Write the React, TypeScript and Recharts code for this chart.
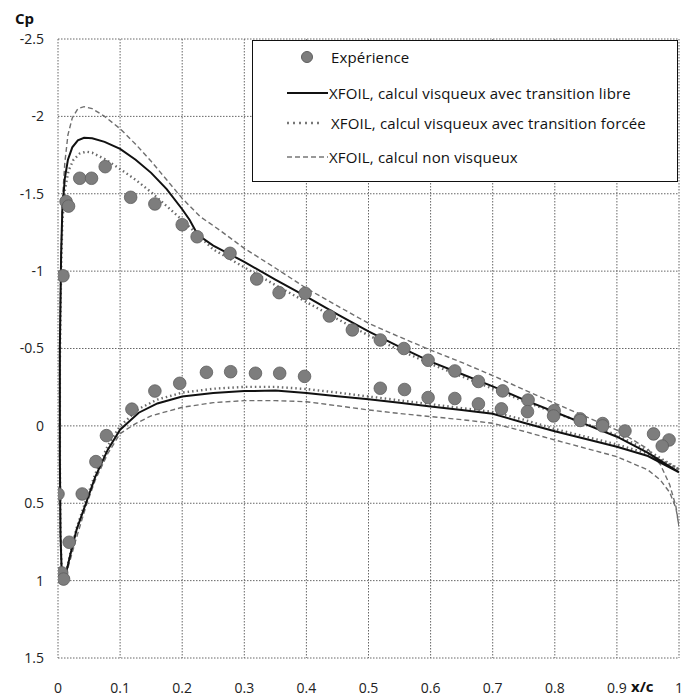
import React from 'react';
import { ComposedChart, Line, Scatter, XAxis, YAxis, CartesianGrid, Legend } from 'recharts';

type P = { x: number; cp: number };
const mk = (pairs: number[][]): P[] => pairs.map(([x, cp]) => ({ x, cp }));

// Axis ticks
const xTicks = [0, 0.1, 0.2, 0.3, 0.4, 0.5, 0.6, 0.7, 0.8, 0.9, 1];
const yTicks = [-2.5, -2, -1.5, -1, -0.5, 0, 0.5, 1, 1.5];

// Legend labels
const legendLabels = [
  'Expérience',
  'XFOIL, calcul visqueux avec transition libre',
  'XFOIL, calcul visqueux avec transition forcée',
  'XFOIL, calcul non visqueux',
];

// Experimental points (upper surface)
const expUpper = mk([
  [0.008, -0.97], [0.013, -1.45], [0.017, -1.42], [0.035, -1.6], [0.054, -1.6], [0.076, -1.675],
  [0.117, -1.477], [0.156, -1.434], [0.2, -1.3], [0.224, -1.222], [0.277, -1.115], [0.32, -0.949],
  [0.356, -0.861], [0.398, -0.857], [0.437, -0.71], [0.474, -0.62], [0.519, -0.555], [0.557, -0.5],
  [0.596, -0.424], [0.639, -0.355], [0.677, -0.287], [0.716, -0.226], [0.757, -0.167], [0.799, -0.098],
  [0.841, -0.045], [0.877, -0.015], [0.913, 0.033], [0.959, 0.052], [0.984, 0.091],
]);

// Experimental points (lower surface)
const expLower = mk([
  [0.0, 0.44], [0.006, 0.95], [0.009, 0.99], [0.018, 0.752], [0.039, 0.44], [0.061, 0.231],
  [0.078, 0.063], [0.119, -0.108], [0.156, -0.225], [0.196, -0.275], [0.239, -0.346], [0.278, -0.35],
  [0.318, -0.34], [0.357, -0.34], [0.397, -0.32], [0.519, -0.243], [0.558, -0.235], [0.596, -0.183],
  [0.639, -0.177], [0.677, -0.142], [0.714, -0.11], [0.756, -0.092], [0.798, -0.064], [0.841, -0.035],
  [0.877, 0.0], [0.973, 0.13],
]);

// XFOIL viscous, free transition (TE upper -> LE -> TE lower)
const freeTransition = mk([
  [1.0, 0.3], [0.95, 0.175], [0.9, 0.07], [0.85, -0.01], [0.8, -0.09], [0.75, -0.17], [0.7, -0.255],
  [0.65, -0.335], [0.6, -0.415], [0.55, -0.51], [0.5, -0.61], [0.45, -0.72], [0.4, -0.835],
  [0.35, -0.945], [0.3, -1.06], [0.25, -1.165], [0.225, -1.235], [0.212, -1.33], [0.2, -1.4],
  [0.175, -1.53], [0.15, -1.635], [0.125, -1.72], [0.1, -1.79], [0.075, -1.835], [0.055, -1.858],
  [0.042, -1.862], [0.032, -1.845], [0.023, -1.8], [0.016, -1.72], [0.011, -1.6], [0.007, -1.4],
  [0.005, -1.1], [0.003, -0.5], [0.003, 0.2], [0.004, 0.7], [0.006, 0.95], [0.009, 1.0],
  [0.013, 0.95], [0.02, 0.83], [0.03, 0.67], [0.045, 0.5], [0.06, 0.33], [0.08, 0.155], [0.1, 0.025],
  [0.13, -0.085], [0.16, -0.145], [0.2, -0.19], [0.25, -0.213], [0.3, -0.225], [0.35, -0.228],
  [0.4, -0.212], [0.45, -0.192], [0.5, -0.172], [0.55, -0.15], [0.6, -0.125], [0.65, -0.103],
  [0.7, -0.078], [0.75, -0.02], [0.8, 0.035], [0.85, 0.085], [0.9, 0.135], [0.95, 0.195], [1.0, 0.3],
]);

// XFOIL viscous, forced transition
const forcedTransition = mk([
  [1.0, 0.28], [0.95, 0.16], [0.9, 0.06], [0.85, -0.015], [0.8, -0.085], [0.75, -0.16], [0.7, -0.24],
  [0.65, -0.32], [0.6, -0.4], [0.55, -0.49], [0.5, -0.585], [0.45, -0.69], [0.4, -0.8], [0.35, -0.91],
  [0.3, -1.025], [0.25, -1.14], [0.225, -1.235], [0.2, -1.33], [0.175, -1.42], [0.15, -1.51],
  [0.125, -1.59], [0.1, -1.66], [0.075, -1.725], [0.055, -1.765], [0.045, -1.772], [0.035, -1.76],
  [0.025, -1.72], [0.017, -1.65], [0.011, -1.52], [0.007, -1.32], [0.005, -1.0], [0.003, -0.4],
  [0.003, 0.2], [0.004, 0.7], [0.006, 0.95], [0.009, 1.0],
  [0.013, 0.95], [0.02, 0.82], [0.03, 0.66], [0.045, 0.48], [0.06, 0.31], [0.08, 0.13], [0.1, 0.0],
  [0.13, -0.11], [0.16, -0.17], [0.2, -0.215], [0.25, -0.24], [0.3, -0.252], [0.35, -0.252],
  [0.4, -0.238], [0.45, -0.215], [0.5, -0.19], [0.55, -0.165], [0.6, -0.14], [0.65, -0.115],
  [0.7, -0.09], [0.75, -0.04], [0.8, 0.02], [0.85, 0.07], [0.9, 0.12], [0.95, 0.18], [1.0, 0.28],
]);

// XFOIL inviscid
const inviscid = mk([
  [1.0, 0.65], [0.995, 0.52], [0.985, 0.38], [0.97, 0.25], [0.95, 0.15], [0.9, 0.027], [0.85, -0.06],
  [0.8, -0.146], [0.75, -0.235], [0.7, -0.325], [0.65, -0.41], [0.6, -0.49], [0.55, -0.575],
  [0.5, -0.663], [0.45, -0.775], [0.4, -0.889], [0.35, -1.02], [0.3, -1.147], [0.26, -1.266],
  [0.229, -1.352], [0.2, -1.47], [0.175, -1.59], [0.15, -1.71], [0.125, -1.82], [0.1, -1.92],
  [0.075, -2.0], [0.055, -2.05], [0.042, -2.063], [0.032, -2.05], [0.023, -1.99], [0.016, -1.88],
  [0.011, -1.7], [0.007, -1.45], [0.005, -1.1], [0.003, -0.5], [0.003, 0.2], [0.004, 0.7],
  [0.006, 0.95], [0.009, 1.0],
  [0.013, 0.96], [0.02, 0.86], [0.03, 0.72], [0.045, 0.52], [0.06, 0.35], [0.08, 0.18], [0.1, 0.05],
  [0.125, -0.015], [0.15, -0.065], [0.2, -0.12], [0.25, -0.15], [0.3, -0.163], [0.35, -0.163],
  [0.4, -0.156], [0.45, -0.13], [0.5, -0.103], [0.55, -0.08], [0.6, -0.06], [0.65, -0.04],
  [0.7, -0.017], [0.75, 0.035], [0.8, 0.091], [0.85, 0.145], [0.9, 0.199], [0.95, 0.285],
  [0.97, 0.35], [0.985, 0.43], [0.995, 0.53], [1.0, 0.65],
]);

const FONT = '"Open Sans", "DejaVu Sans", sans-serif';

const Dot = (props: any) => {
  const { cx, cy } = props;
  if (cx == null || cy == null) return null;
  return <circle cx={cx} cy={cy} r={6.3} fill="#7d7d7d" stroke="#5e5e5e" strokeWidth={0.8} />;
};

const LegendBox = () => {
  const rowStyle: React.CSSProperties = { position: 'absolute', left: 0, height: 20, width: 424 };
  const text: React.CSSProperties = {
    fontFamily: FONT, fontSize: 15, color: '#111', whiteSpace: 'nowrap', position: 'absolute', top: 0, lineHeight: '20px', letterSpacing: 0.15,
  };
  return (
    <div style={{ position: 'relative', width: 426, height: 142, background: '#fff', border: '1.5px solid #111', boxSizing: 'border-box' }}>
      <div style={{ ...rowStyle, top: 6 }}>
        <svg width={80} height={20} style={{ position: 'absolute', left: 0 }}>
          <circle cx={54} cy={10} r={5.5} fill="#7d7d7d" stroke="#5e5e5e" />
        </svg>
        <span style={{ ...text, left: 78 }}>{legendLabels[0]}</span>
      </div>
      <div style={{ ...rowStyle, top: 42 }}>
        <svg width={80} height={20} style={{ position: 'absolute', left: 0 }}>
          <line x1={34} x2={75} y1={10} y2={10} stroke="#111" strokeWidth={2} />
        </svg>
        <span style={{ ...text, left: 76 }}>{legendLabels[1]}</span>
      </div>
      <div style={{ ...rowStyle, top: 72 }}>
        <svg width={80} height={20} style={{ position: 'absolute', left: 0 }}>
          <line x1={34} x2={66} y1={10} y2={10} stroke="#777" strokeWidth={2.5} strokeDasharray="2 4" />
        </svg>
        <span style={{ ...text, left: 78 }}>{legendLabels[2]}</span>
      </div>
      <div style={{ ...rowStyle, top: 106 }}>
        <svg width={80} height={20} style={{ position: 'absolute', left: 0 }}>
          <line x1={34} x2={75} y1={10} y2={10} stroke="#777" strokeWidth={1.5} strokeDasharray="5 3" />
        </svg>
        <span style={{ ...text, left: 76 }}>{legendLabels[3]}</span>
      </div>
    </div>
  );
};

export default function App() {
  const tick = { fill: '#222', fontSize: 14, fontFamily: FONT };
  return (
    <div style={{ position: 'absolute', left: 0, top: 0, width: 686, height: 696, background: '#fff', overflow: 'hidden' }}>
      <ComposedChart width={686} height={696} margin={{ top: 39, right: 7, bottom: 0, left: 0 }}>
        <CartesianGrid stroke="#666" strokeDasharray="1.5 1.5" strokeWidth={1} />
        <XAxis
          type="number"
          dataKey="x"
          domain={[0, 1]}
          ticks={xTicks}
          allowDataOverflow
          axisLine={false}
          tickLine={false}
          tickSize={23}
          tickMargin={2}
          height={38}
          tick={tick}
          interval={0}
        />
        <YAxis
          type="number"
          dataKey="cp"
          domain={[-2.5, 1.5]}
          ticks={yTicks}
          reversed
          allowDataOverflow
          axisLine={false}
          tickLine={false}
          tickSize={12}
          tickMargin={2}
          width={58}
          tick={tick}
          interval={0}
        />
        <Scatter name="exp-upper" data={expUpper} dataKey="cp" shape={Dot} isAnimationActive={false} />
        <Scatter name="exp-lower" data={expLower} dataKey="cp" shape={Dot} isAnimationActive={false} />
        <Line data={inviscid} dataKey="cp" type="linear" stroke="#6f6f6f" strokeWidth={1.4} strokeDasharray="5 3" dot={false} activeDot={false} isAnimationActive={false} />
        <Line data={forcedTransition} dataKey="cp" type="linear" stroke="#6a6a6a" strokeWidth={2.4} strokeDasharray="1.5 3" dot={false} activeDot={false} isAnimationActive={false} />
        <Line data={freeTransition} dataKey="cp" type="linear" stroke="#111" strokeWidth={2} dot={false} activeDot={false} isAnimationActive={false} />
        <Legend
          layout="horizontal"
          verticalAlign="middle"
          align="center"
          content={() => <LegendBox />}
          wrapperStyle={{ position: 'absolute', left: 252, top: 40, width: 426, height: 142 }}
        />
      </ComposedChart>
      <div style={{ position: 'absolute', left: 15, top: 8, fontFamily: FONT, fontWeight: 700, fontSize: 15, color: '#111' }}>Cp</div>
      <div style={{ position: 'absolute', left: 631, top: 676, fontFamily: FONT, fontWeight: 700, fontSize: 15, color: '#111' }}>x/c</div>
    </div>
  );
}
